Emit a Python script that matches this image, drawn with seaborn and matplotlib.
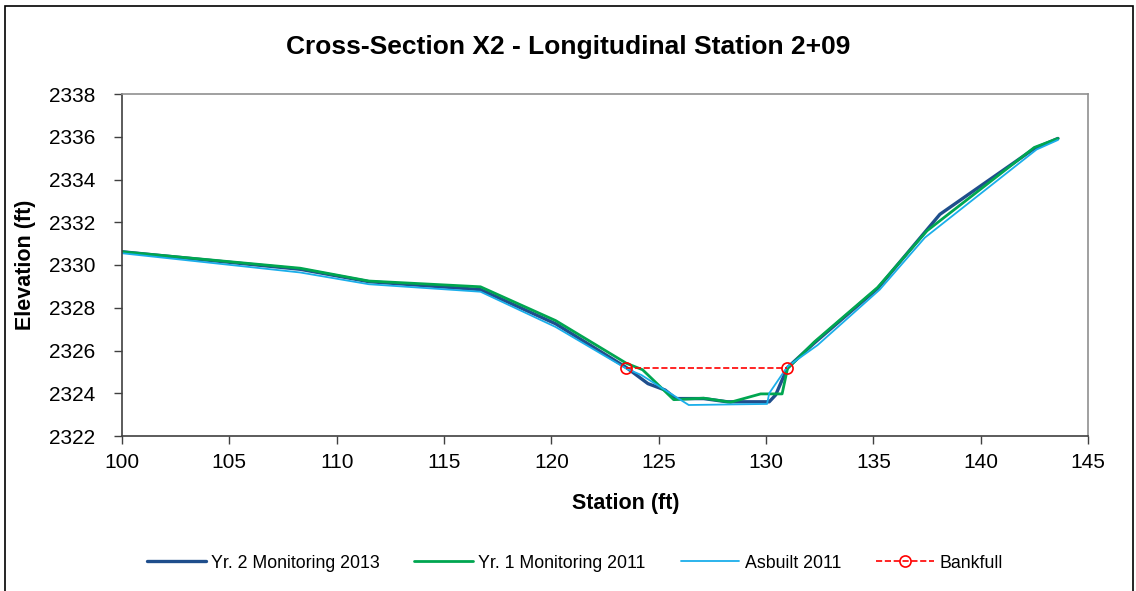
import numpy as np
import pandas as pd
import seaborn as sns
import matplotlib.pyplot as plt
from matplotlib.patches import Rectangle

# Survey data
yr2_station = [100, 108.3, 111.5, 116.7, 120.2, 123.5, 124.5, 125.3, 125.8, 127.1,
               128.2, 130.15, 130.45, 131.0, 132.25, 135.2, 138.1, 142.5, 143.6]
yr2_elev = [2330.62, 2329.8, 2329.22, 2328.85, 2327.25, 2325.2, 2324.45, 2324.15, 2323.75, 2323.75,
            2323.6, 2323.6, 2323.92, 2325.2, 2326.35, 2328.9, 2332.37, 2335.45, 2335.92]

yr1_station = [100, 108.3, 111.5, 116.7, 120.2, 123.5, 124.25, 125.7, 127.1, 128.35,
               129.75, 130.75, 131.0, 132.25, 135.2, 137.5, 142.5, 143.6]
yr1_elev = [2330.62, 2329.85, 2329.25, 2328.98, 2327.4, 2325.4, 2325.1, 2323.7, 2323.77, 2323.58,
            2323.97, 2323.97, 2325.15, 2326.4, 2328.95, 2331.6, 2335.5, 2335.92]

asbuilt_station = [100, 108.3, 111.5, 116.7, 120.2, 123.5, 124.2, 125.3, 126.4, 130.05,
                   130.15, 131.0, 132.4, 135.3, 137.4, 142.6, 143.6]
asbuilt_elev = [2330.55, 2329.65, 2329.1, 2328.75, 2327.1, 2325.15, 2324.85, 2324.15, 2323.45, 2323.5,
                2324.0, 2325.25, 2326.25, 2328.85, 2331.28, 2335.4, 2335.85]

bankfull_station = [123.47, 130.97]
bankfull_elev = [2325.19, 2325.19]

sns.set_style("white")
plt.rcParams['font.family'] = ['Liberation Sans', 'DejaVu Sans']
plt.rcParams['text.color'] = 'black'
plt.rcParams['axes.labelcolor'] = 'black'
plt.rcParams['xtick.color'] = 'black'
plt.rcParams['ytick.color'] = 'black'

fig = plt.figure(figsize=(11.36, 5.91), dpi=100)
ax = fig.add_axes([122 / 1136, 1 - 436 / 591, (1088 - 122) / 1136, (436 - 94) / 591])

sns.lineplot(x=yr2_station, y=yr2_elev, sort=False, color='#1F4E8C', lw=2.4,
             label='Yr. 2 Monitoring 2013', ax=ax)
sns.lineplot(x=yr1_station, y=yr1_elev, sort=False, color='#00A650', lw=2.0,
             label='Yr. 1 Monitoring 2011', ax=ax)
sns.lineplot(x=asbuilt_station, y=asbuilt_elev, sort=False, color='#1AAEEA', lw=1.3,
             label='Asbuilt 2011', ax=ax)
sns.lineplot(x=bankfull_station, y=bankfull_elev, sort=False, color='#FF0000', lw=1.2,
             linestyle='--', marker='o', markersize=8, markerfacecolor='none',
             markeredgecolor='#FF0000', markeredgewidth=1.2, label='Bankfull', ax=ax)

ax.set_xlim(100, 145)
ax.set_ylim(2322, 2338)
ax.set_xticks(np.arange(100, 146, 5))
ax.set_yticks(np.arange(2322, 2339, 2))
ax.tick_params(axis='both', labelsize=15, direction='out', length=6, width=1,
               color='#404040', left=True, bottom=True)
ax.tick_params(axis='x', pad=6)
ax.tick_params(axis='y', pad=13)

for side in ['left', 'bottom']:
    ax.spines[side].set_color('#404040')
    ax.spines[side].set_linewidth(1.2)
for side in ['top', 'right']:
    ax.spines[side].set_color('#909090')
    ax.spines[side].set_linewidth(1.2)

ax.set_xlabel('Station (ft)', fontsize=15.5, fontweight='bold')
ax.set_ylabel('Elevation (ft)', fontsize=15.5, fontweight='bold')
ax.xaxis.set_label_coords((626 - 122) / 966, -(503 - 436) / 342)
ax.yaxis.set_label_coords(-(122 - 26) / 966, 0.5)
ax.xaxis.label.set_va('center')
ax.yaxis.label.set_va('center')
fig.text(0.5, 1 - 47 / 591, 'Cross-Section X2 - Longitudinal Station 2+09',
         ha='center', va='center', fontsize=19, fontweight='bold')

ax.legend_.remove()
handles, labels = ax.get_legend_handles_labels()
fig.legend(handles, labels, loc='center', bbox_to_anchor=(575 / 1136, 1 - 563 / 591), ncol=4,
           frameon=False, fontsize=12.8, handlelength=3.3, handletextpad=0.3, columnspacing=1.95)

# outer chart border
fig.patches.append(Rectangle((5 / 1136, -0.01), (1133 - 5) / 1136, 1.01 - 6 / 591,
                             transform=fig.transFigure, fill=False, edgecolor='black', lw=1.2))

plt.savefig('out.png', dpi=100)
